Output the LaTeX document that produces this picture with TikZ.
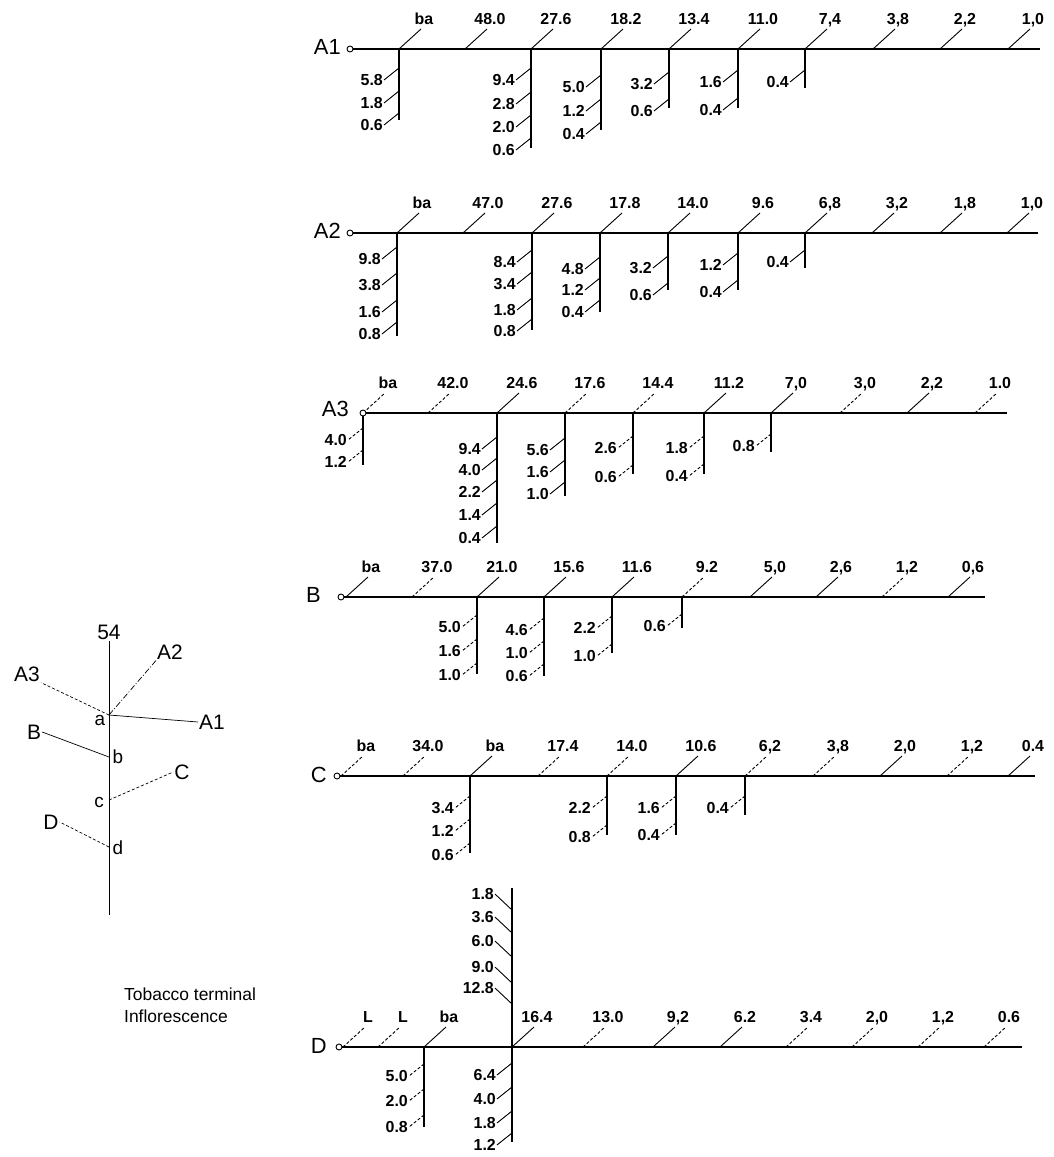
\documentclass[tikz,border=0pt]{standalone}
\usepackage{fontspec}
\setmainfont{Liberation Sans}
\usetikzlibrary{calc}

\tikzset{
  num/.style={font=\fontsize{16}{18}\selectfont\bfseries, inner sep=1bp, text depth=0pt},
  rowname/.style={font=\fontsize{22}{24}\selectfont, inner sep=1bp},
  axisline/.style={line width=1.7bp},
  stalk/.style={line width=1.3bp},
  twig/.style={line width=0.9bp},
  broken/.style={dash pattern=on 3bp off 2bp},
  knot/.style={circle, draw, fill=white, line width=0.9bp, inner sep=0pt, minimum size=6bp},
  plant/.style={line width=0.7bp},
  big/.style={font=\fontsize{21}{23}\selectfont, inner sep=1bp},
  small/.style={font=\fontsize{19}{21}\selectfont, inner sep=1bp},
}

\begin{document}
\begin{tikzpicture}[x=1bp, y=-1bp]
    \useasboundingbox (0,0) rectangle (1054,1157);

    % ---- plant sketch ----
    \node[big] (top) at (109,632) {54};
    \coordinate (sa) at (109,715);
    \coordinate (sb) at (109,757);
    \coordinate (sc) at (109,800);
    \coordinate (sd) at (109,847);
    \coordinate (sbot) at (109,915);
    \draw[plant] (top.south) -- (sbot);
    \node[big] (pa2) at (170,652) {A2};
    \node[big] (pa3) at (27,674) {A3};
    \node[big] (pa1) at (212,722) {A1};
    \node[big] (pb) at (34,732) {B};
    \node[big] (pc) at (182,772) {C};
    \node[big] (pd) at (51,822) {D};
    \draw[plant, dash pattern=on 6bp off 2bp on 1bp off 2bp] (sa) -- (pa2.south west);
    \draw[plant, broken] (sa) -- (pa3.south east);
    \draw[plant] (sa) -- (pa1.west);
    \draw[plant] (sb) -- (pb.east);
    \draw[plant, broken] (sc) -- (pc.west);
    \draw[plant, broken] (sd) -- (pd.east);
    \node[small] (na) at (100,720) {a};
    \node[small] (nb) at (118,757) {b};
    \node[small] (nc) at (99,802) {c};
    \node[small] (nd) at (118,848) {d};
    \node[anchor=north west, align=left, inner sep=0pt,
          font=\fontsize{17.5}{22}\selectfont] (cap) at (124,988)
          {Tobacco terminal\\Inflorescence};

    % ---- row A1 ----
    \foreach \x/\b/\s/\l [count=\k] in {399/120/solid/{68/5.8,91/1.8,113/0.6},
        531/148/solid/{68/9.4,92/2.8,115/2.0,138/0.6}, 601/130/solid/{75/5.0,99/1.2,122/0.4},
        669/108/solid/{72/3.2,99/0.6}, 738/108/solid/{70/1.6,98/0.4}, 805/88/solid/{70/0.4}} {
        \coordinate (a1v\k) at (\x,49);
        \coordinate (a1e\k) at (\x,\b);
        \draw[stalk] (a1v\k) -- (a1e\k);
        \foreach \j/\v [count=\m] in \l {
            \coordinate (a1j\k-\m) at (\x,\j);
            \node[num, anchor=east] (a1s\k-\m) at (\x-15,\j+12) {\v};
            \draw[twig,\s] (a1j\k-\m) -- (a1s\k-\m.east);
        }
    }
    \foreach \x/\t/\s [count=\i] in {399/ba/solid, 465/48.0/solid, 531/27.6/solid,
        601/18.2/solid, 669/13.4/solid, 738/11.0/solid, 805/{7,4}/solid,
        873/{3,8}/solid, 940/{2,2}/solid, 1008/{1,0}/solid} {
        \coordinate (a1t\i) at (\x,49);
        \node[num, anchor=south] (a1n\i) at (\x+25,26) {\t};
        \draw[twig,\s] (a1t\i) -- ([xshift=-3bp, yshift=-3bp]a1n\i.south);
    }
    \node[rowname, anchor=east] (a1) at (342,47) {A1};
    \node[knot] (a1o) at (350,49) {};
    \coordinate (a1end) at (1040,49);
    \draw[axisline] (a1o) -- (a1end);

    % ---- row A2 ----
    \foreach \x/\b/\s/\l [count=\k] in {397/336/solid/{247/9.8,273/3.8,300/1.6,322/0.8},
        532/330/solid/{250/8.4,272/3.4,298/1.8,319/0.8}, 600/312/solid/{257/4.8,278/1.2,300/0.4},
        668/290/solid/{256/3.2,283/0.6}, 738/290/solid/{253/1.2,280/0.4}, 805/268/solid/{250/0.4}} {
        \coordinate (a2v\k) at (\x,233);
        \coordinate (a2e\k) at (\x,\b);
        \draw[stalk] (a2v\k) -- (a2e\k);
        \foreach \j/\v [count=\m] in \l {
            \coordinate (a2j\k-\m) at (\x,\j);
            \node[num, anchor=east] (a2s\k-\m) at (\x-15,\j+12) {\v};
            \draw[twig,\s] (a2j\k-\m) -- (a2s\k-\m.east);
        }
    }
    \foreach \x/\t/\s [count=\i] in {397/ba/solid, 463/47.0/solid, 532/27.6/solid,
        600/17.8/solid, 668/14.0/solid, 738/9.6/solid, 805/{6,8}/solid,
        872/{3,2}/solid, 940/{1,8}/solid, 1007/{1,0}/solid} {
        \coordinate (a2t\i) at (\x,233);
        \node[num, anchor=south] (a2n\i) at (\x+25,210) {\t};
        \draw[twig,\s] (a2t\i) -- ([xshift=-3bp, yshift=-3bp]a2n\i.south);
    }
    \node[rowname, anchor=east] (a2) at (342,231) {A2};
    \node[knot] (a2o) at (350,233) {};
    \coordinate (a2end) at (1038,233);
    \draw[axisline] (a2o) -- (a2end);

    % ---- row A3 ----
    \foreach \x/\b/\s/\l [count=\k] in {363/465/broken/{428/4.0,450/1.2},
        497/543/solid/{437/9.4,458/4.0,480/2.2,503/1.4,526/0.4},
        565/496/solid/{438/5.6,460/1.6,482/1.0}, 633/474/broken/{436/2.6,465/0.6},
        704/474/broken/{436/1.8,464/0.4}, 771/452/broken/{434/0.8}} {
        \coordinate (a3v\k) at (\x,413);
        \coordinate (a3e\k) at (\x,\b);
        \draw[stalk] (a3v\k) -- (a3e\k);
        \foreach \j/\v [count=\m] in \l {
            \coordinate (a3j\k-\m) at (\x,\j);
            \node[num, anchor=east] (a3s\k-\m) at (\x-15,\j+12) {\v};
            \draw[twig,\s] (a3j\k-\m) -- (a3s\k-\m.east);
        }
    }
    \foreach \x/\t/\s [count=\i] in {363/ba/broken, 428/42.0/broken, 497/24.6/solid,
        565/17.6/broken, 633/14.4/broken, 704/11.2/solid, 771/{7,0}/solid,
        840/{3,0}/broken, 907/{2,2}/solid, 975/1.0/broken} {
        \coordinate (a3t\i) at (\x,413);
        \node[num, anchor=south] (a3n\i) at (\x+25,390) {\t};
        \draw[twig,\s] (a3t\i) -- ([xshift=-3bp, yshift=-3bp]a3n\i.south);
    }
    \node[rowname, anchor=east] (a3) at (350,409) {A3};
    \node[knot] (a3o) at (363,413) {};
    \coordinate (a3end) at (1007,413);
    \draw[axisline] (a3o) -- (a3end);

    % ---- row B ----
    \foreach \x/\b/\s/\l [count=\k] in {477/674/broken/{615/5.0,639/1.6,663/1.0},
        544/676/broken/{618/4.6,641/1.0,664/0.6}, 612/653/broken/{616/2.2,644/1.0},
        682/628/broken/{614/0.6}} {
        \coordinate (bv\k) at (\x,597);
        \coordinate (be\k) at (\x,\b);
        \draw[stalk] (bv\k) -- (be\k);
        \foreach \j/\v [count=\m] in \l {
            \coordinate (bj\k-\m) at (\x,\j);
            \node[num, anchor=east] (bs\k-\m) at (\x-15,\j+12) {\v};
            \draw[twig,\s] (bj\k-\m) -- (bs\k-\m.east);
        }
    }
    \foreach \x/\t/\s [count=\i] in {346/ba/solid, 412/37.0/broken, 477/21.0/solid,
        544/15.6/solid, 612/11.6/solid, 682/9.2/broken, 750/{5,0}/solid,
        816/{2,6}/solid, 882/{1,2}/broken, 948/{0,6}/solid} {
        \coordinate (bt\i) at (\x,597);
        \node[num, anchor=south] (bn\i) at (\x+25,574) {\t};
        \draw[twig,\s] (bt\i) -- ([xshift=-3bp, yshift=-3bp]bn\i.south);
    }
    \node[rowname, anchor=east] (b) at (322,595) {B};
    \node[knot] (bo) at (341,597) {};
    \coordinate (bend) at (985,597);
    \draw[axisline] (bo) -- (bend);

    % ---- row C ----
    \foreach \x/\b/\s/\l [count=\k] in {470/853/broken/{796/3.4,819/1.2,843/0.6},
        607/835/broken/{796/2.2,825/0.8}, 676/835/broken/{796/1.6,823/0.4},
        745/815/broken/{796/0.4}} {
        \coordinate (cv\k) at (\x,776);
        \coordinate (ce\k) at (\x,\b);
        \draw[stalk] (cv\k) -- (ce\k);
        \foreach \j/\v [count=\m] in \l {
            \coordinate (cj\k-\m) at (\x,\j);
            \node[num, anchor=east] (cs\k-\m) at (\x-15,\j+12) {\v};
            \draw[twig,\s] (cj\k-\m) -- (cs\k-\m.east);
        }
    }
    \foreach \x/\t/\s [count=\i] in {341/ba/broken, 403/34.0/broken, 470/ba/solid,
        538/17.4/broken, 607/14.0/broken, 676/10.6/solid, 745/{6,2}/broken,
        813/{3,8}/broken, 880/{2,0}/solid, 947/{1,2}/broken, 1008/0.4/solid} {
        \coordinate (ct\i) at (\x,776);
        \node[num, anchor=south] (cn\i) at (\x+25,753) {\t};
        \draw[twig,\s] (ct\i) -- ([xshift=-3bp, yshift=-3bp]cn\i.south);
    }
    \node[rowname, anchor=east] (c) at (328,775) {C};
    \node[knot] (co) at (337,776) {};
    \coordinate (cend) at (1035,776);
    \draw[axisline] (co) -- (cend);

    % ---- row D ----
    \foreach \x/\b/\s/\l [count=\k] in {424/1127/broken/{1064/5.0,1089/2.0,1115/0.8},
        512/1142/solid/{1063/6.4,1087/4.0,1111/1.8,1133/1.2}} {
        \coordinate (dv\k) at (\x,1047);
        \coordinate (de\k) at (\x,\b);
        \draw[stalk] (dv\k) -- (de\k);
        \foreach \j/\v [count=\m] in \l {
            \coordinate (dj\k-\m) at (\x,\j);
            \node[num, anchor=east] (ds\k-\m) at (\x-15,\j+12) {\v};
            \draw[twig,\s] (dj\k-\m) -- (ds\k-\m.east);
        }
    }
    % upper part of the 16.4 stalk
    \coordinate (dup) at (512,888);
    \draw[stalk] (dv2) -- (dup);
    \foreach \j/\v [count=\m] in {910/1.8, 933/3.6, 957/6.0, 983/9.0, 1004/12.8} {
        \coordinate (duj\m) at (512,\j);
        \node[num, anchor=east] (dus\m) at (495,\j-16) {\v};
        \draw[twig] (duj\m) -- (dus\m.east);
    }
    \foreach \x/\t/\s [count=\i] in {343/L/broken, 378/L/broken, 424/ba/solid,
        512/16.4/solid, 583/13.0/broken, 653/{9,2}/solid, 720/6.2/solid,
        786/3.4/broken, 852/{2,0}/broken, 918/{1,2}/broken, 984/0.6/broken} {
        \coordinate (dt\i) at (\x,1047);
        \node[num, anchor=south] (dn\i) at (\x+25,1024) {\t};
        \draw[twig,\s] (dt\i) -- ([xshift=-3bp, yshift=-3bp]dn\i.south);
    }
    \node[rowname, anchor=east] (d) at (328,1046) {D};
    \node[knot] (do) at (339,1047) {};
    \coordinate (dend) at (1022,1047);
    \draw[axisline] (do) -- (dend);
\end{tikzpicture}
\end{document}
